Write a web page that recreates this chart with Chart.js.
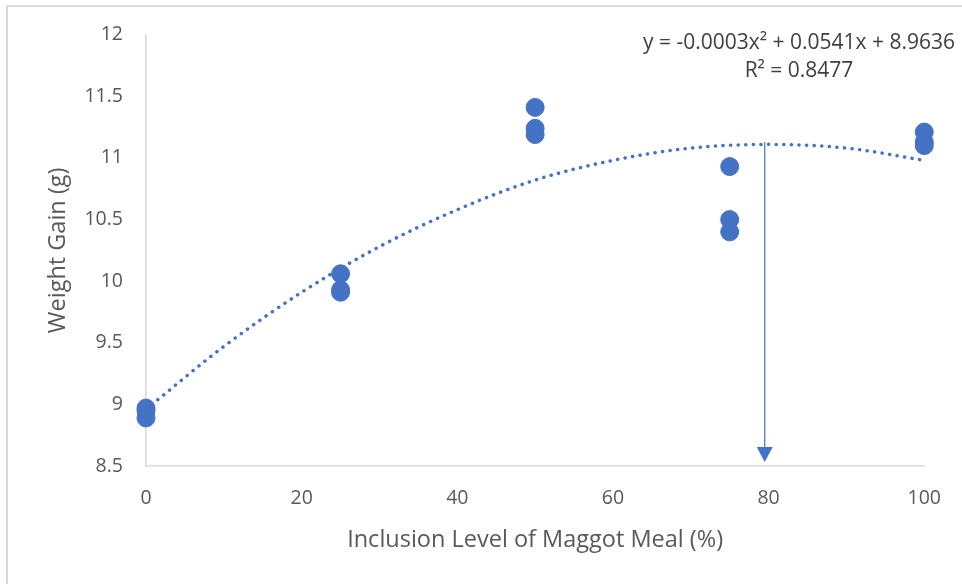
<!DOCTYPE html>
<html>
<head>
<meta charset="utf-8">
<script src="https://cdn.jsdelivr.net/npm/chart.js@4"></script>
<style>
  html, body { margin: 0; padding: 0; background: #fff; }
  #wrap { position: relative; width: 962px; height: 584px; }
  #wrap:after { content: ''; position: absolute; left: 6px; top: 5px; right: 0; bottom: 0; border-left: 2px solid #d9d9d9; border-top: 2px solid #d9d9d9; pointer-events: none; }
</style>
</head>
<body>
<div id="wrap"><canvas id="chart" width="962" height="584"></canvas></div>
<script>
// Observed weight gain per inclusion level (3 replicates each)
const inclusionLevels = [0, 0, 0, 25, 25, 25, 50, 50, 50, 75, 75, 75, 100, 100, 100];
const weightGain = [8.97, 8.95, 8.89, 10.06, 9.93, 9.91, 11.41, 11.24, 11.19, 10.93, 10.50, 10.40, 11.21, 11.13, 11.10];

// Polynomial trendline
const trendX = [0, 10, 20, 30, 40, 50, 60, 70, 80, 90, 100];
const trendY = [8.96, 9.47, 9.91, 10.28, 10.58, 10.82, 10.98, 11.08, 11.11, 11.08, 10.98];

// Arrow marking the peak of the curve
const arrowX = 79.5;
const arrowTop = 11.13;
const arrowBottom = 8.5;

const xTicks = [0, 20, 40, 60, 80, 100];
const equationLines = ['y = -0.0003x\u00B2 + 0.0541x + 8.9636', 'R\u00B2 = 0.8477'];

const FONT = '"Open Sans", sans-serif';
const BLUE = '#4472C4';
const TEXT = '#595959';

const arrowPlugin = {
    id: 'arrowAndLabel',
    afterDatasetsDraw(chart) {
        const ctx = chart.ctx;
        const xs = chart.scales.x, ys = chart.scales.y;
        const px = xs.getPixelForValue(arrowX);
        const top = ys.getPixelForValue(arrowTop);
        const tip = ys.getPixelForValue(arrowBottom) - 4;
        ctx.save();
        ctx.strokeStyle = BLUE;
        ctx.lineWidth = 1.2;
        ctx.beginPath();
        ctx.moveTo(px, top);
        ctx.lineTo(px, tip - 14);
        ctx.stroke();
        ctx.fillStyle = BLUE;
        ctx.beginPath();
        ctx.moveTo(px - 8, tip - 15);
        ctx.lineTo(px + 8, tip - 15);
        ctx.lineTo(px, tip);
        ctx.closePath();
        ctx.fill();

        // trendline equation
        ctx.fillStyle = '#404040';
        ctx.font = '21px ' + FONT;
        ctx.textAlign = 'center';
        ctx.textBaseline = 'middle';
        ctx.fillText(equationLines[0], 799, 43);
        ctx.fillText(equationLines[1], 799, 71);
        ctx.restore();
    }
};

const ctx = document.getElementById('chart').getContext('2d');
new Chart(ctx, {
    type: 'scatter',
    data: {
        datasets: [
            {
                label: 'Weight Gain',
                data: inclusionLevels.map((x, i) => ({ x: x, y: weightGain[i] })),
                backgroundColor: BLUE,
                borderColor: BLUE,
                pointRadius: 9,
                pointHoverRadius: 9,
                clip: false,
                order: 1
            },
            {
                label: 'Poly. (Weight Gain)',
                type: 'line',
                data: trendX.map((x, i) => ({ x: x, y: trendY[i] })),
                borderColor: BLUE,
                borderWidth: 3.5,
                borderDash: [0.1, 7.5],
                borderCapStyle: 'round',
                pointRadius: 0,
                tension: 0.4,
                cubicInterpolationMode: 'monotone',
                fill: false,
                order: 2
            }
        ]
    },
    options: {
        responsive: false,
        animation: false,
        layout: { padding: { left: 0, right: 37, top: 34, bottom: 0 } },
        plugins: {
            legend: { display: false },
            tooltip: { enabled: false }
        },
        scales: {
            x: {
                type: 'linear',
                min: 0,
                max: 100,
                afterFit: s => { s.height = 118; },
                afterBuildTicks: s => { s.ticks = xTicks.map(v => ({ value: v })); },
                grid: { display: false, drawTicks: false },
                border: { display: true, color: '#d9d9d9', width: 1.5 },
                ticks: { color: TEXT, font: { family: FONT, size: 19.5 }, padding: 21 },
                title: {
                    display: true,
                    text: 'Inclusion Level of Maggot Meal (%)',
                    color: TEXT,
                    font: { family: FONT, size: 23.5 },
                    padding: 30
                }
            },
            y: {
                type: 'linear',
                min: 8.5,
                max: 12,
                afterFit: s => { s.width = 146; },
                grid: { display: false, drawTicks: false },
                border: { display: true, color: '#d9d9d9', width: 1.5 },
                ticks: {
                    stepSize: 0.5,
                    color: TEXT,
                    font: { family: FONT, size: 19.5 },
                    padding: 23,
                    callback: v => String(Number(v.toFixed(1)))
                },
                title: {
                    display: true,
                    text: 'Weight Gain (g)',
                    color: TEXT,
                    font: { family: FONT, size: 23.5 },
                    padding: 44
                }
            }
        }
    },
    plugins: [arrowPlugin]
});
</script>
</body>
</html>
